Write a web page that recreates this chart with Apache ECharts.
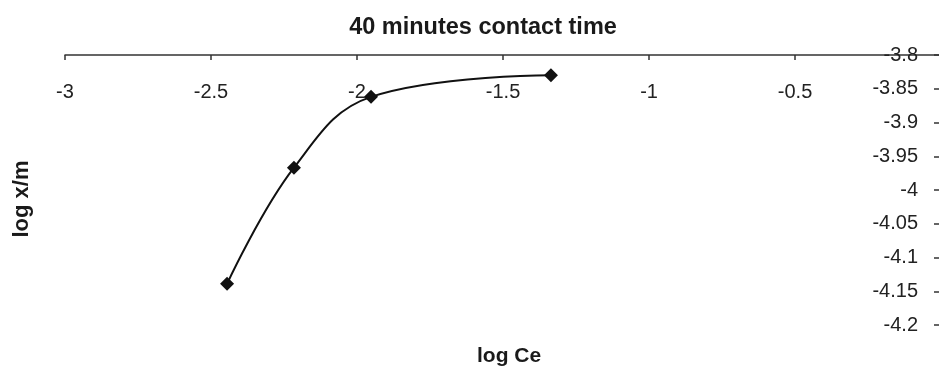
<!DOCTYPE html>
<html><head><meta charset="utf-8">
<script src="https://cdn.jsdelivr.net/npm/echarts@6/dist/echarts.min.js"></script>
<style>html,body{margin:0;padding:0;background:#fff}#c{width:939px;height:370px}</style>
</head><body><div id="c"></div>
<script>
const titleText = '40 minutes contact time';
const xName = 'log Ce';
const yName = 'log x/m';
const logCe = [-2.445, -2.216, -1.952, -1.336];
const logXM = [-4.139, -3.967, -3.862, -3.830];
const xMin = -3, xMax = -0.007, xStep = 0.5;
const yMin = -4.2, yMax = -3.8, yStep = 0.05;

const chart = echarts.init(document.getElementById('c'));
const font = 'Liberation Sans, Arial, sans-serif';
chart.setOption({
  animation: false,
  title: {
    text: titleText, left: 478, top: 11, textAlign: 'center',
    textStyle: {fontFamily: font, fontSize: 23.5, fontWeight: 'bold', color: '#1a1a1a'}
  },
  graphic: [
    {type: 'text', left: 477, top: 346, style: {text: xName, fontFamily: font, fontSize: 21, fontWeight: 'bold', fill: '#1a1a1a'}},
    {type: 'text', x: 22, y: 199, rotation: Math.PI / 2, style: {text: yName, fontFamily: font, fontSize: 22, fontWeight: 'bold', fill: '#1a1a1a', align: 'center', verticalAlign: 'middle'}}
  ],
  grid: {left: 65, top: 55, right: 0, bottom: 45, containLabel: false},
  xAxis: {
    type: 'value', position: 'top', min: xMin, max: xMax, interval: xStep,
    axisLine: {show: true, onZero: false, lineStyle: {color: '#333', width: 1.5}},
    axisTick: {show: true, inside: true, length: 5, lineStyle: {color: '#333', width: 1.5}},
    axisLabel: {inside: true, margin: 27, fontFamily: font, fontSize: 20, color: '#222',
      showMaxLabel: false,
      formatter: v => String(+v.toFixed(2))},
    splitLine: {show: false}
  },
  yAxis: {
    type: 'value', position: 'right', min: yMin, max: yMax, interval: yStep,
    axisLine: {show: false},
    axisTick: {show: true, inside: true, length: 5, lineStyle: {color: '#333', width: 1.5}},
    axisLabel: {inside: true, margin: 21, fontFamily: font, fontSize: 20, color: '#222',
      formatter: v => String(+v.toFixed(2))},
    splitLine: {show: false}
  },
  series: [{
    type: 'line', smooth: 0.4,
    data: logCe.map((x, i) => [x, logXM[i]]),
    symbol: 'diamond', symbolSize: 14,
    lineStyle: {color: '#111', width: 2},
    itemStyle: {color: '#111'}
  }]
});
</script></body></html>
